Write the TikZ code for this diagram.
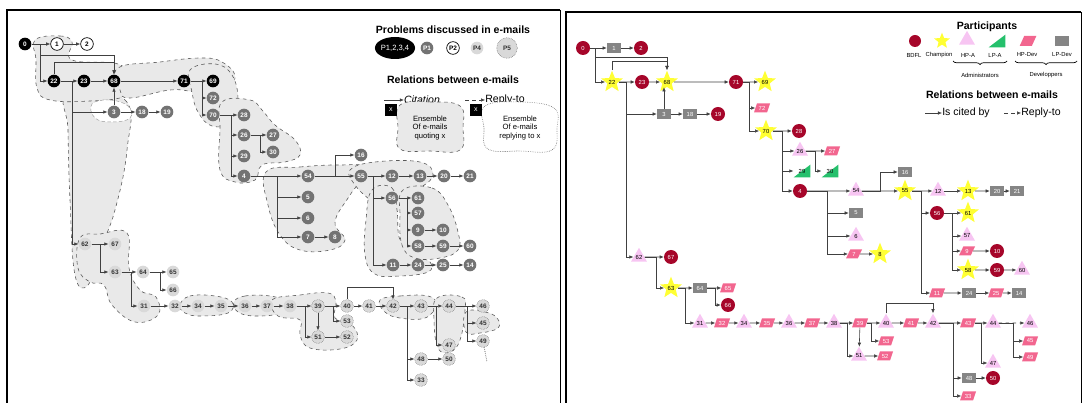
\documentclass[tikz,border=0pt]{standalone}
\usepackage{fontspec}
\setmainfont{Liberation Sans}
\usetikzlibrary{shapes.geometric,arrows.meta,decorations.pathreplacing}

\definecolor{bdfl}{HTML}{A6062A}
\definecolor{champ}{HTML}{FFFF33}
\definecolor{hpa}{HTML}{F7C5F2}
\definecolor{lpa}{HTML}{25C06C}
\definecolor{hpdev}{HTML}{F2668F}
\definecolor{lpdev}{HTML}{858585}
\definecolor{blobgray}{HTML}{E9E9E9}

\tikzset{
  every node/.style={font=\fontsize{5}{6}\selectfont, inner sep=0pt},
  cite/.style={draw=black!75, line width=0.5pt, -{Latex[length=3.5pt,width=3pt]}},
  reply/.style={cite, dashed},
  heading/.style={font=\fontsize{9}{10}\selectfont\bfseries},
  keytext/.style={font=\fontsize{9}{10}\selectfont},
  pall/.style={circle, minimum size=0.38cm, font=\fontsize{5.5}{6}\selectfont\bfseries},
  pall4/.style={pall, fill=black, text=white},
  pone/.style={pall, fill=black!55, text=white},
  ptwo/.style={pall, draw=black, fill=white, line width=0.6pt},
  pfour/.style={pall, fill=black!15, text=black!80},
  pfive/.style={pall, fill=black!15, draw=black!70, densely dotted, text=black!80},
  region/.style={fill=blobgray, draw=black!65, dashed, line width=0.5pt},
  bdflnode/.style={circle, fill=bdfl, text=white, minimum size=0.42cm},
  champnode/.style={star, star points=5, star point ratio=2.3, fill=champ, minimum size=0.68cm},
  hpanode/.style={regular polygon, regular polygon sides=3, fill=hpa, minimum size=0.55cm},
  lpanode/.style={minimum width=0.5cm, minimum height=0.38cm,
    path picture={\fill[lpa] (path picture bounding box.south west) -- (path picture bounding box.south east) -- (path picture bounding box.north east) -- cycle;}},
  hpdevnode/.style={trapezium, trapezium left angle=65, trapezium right angle=115, trapezium stretches=true,
    fill=hpdev, text=white, minimum width=0.48cm, minimum height=0.27cm},
  lpdevnode/.style={rectangle, fill=lpdev, text=white, minimum width=0.42cm, minimum height=0.28cm},
}

\begin{document}
\begin{tikzpicture}[x=0.03cm, y=-0.03cm]
\useasboundingbox (0,0) rectangle (1083,403);

% frames of the two panels
\draw[line width=1.6pt] (7,403) -- (7,10) -- (560,10);
\draw[line width=0.6pt] (560,10) -- (560,403);
\draw[line width=1.6pt] (566,403) -- (566,12) -- (1081,12);
\draw[line width=0.6pt] (1081,12) -- (1081,403);

% ---------------- left panel: problems ----------------
% ensembles of e-mails
\draw[region] plot[smooth cycle, tension=0.7] coordinates {(68,95) (125,100) (127,150) (115,210) (100,250) (88,285) (75,275) (70,200) (68,130)};
\draw[region] plot[smooth cycle, tension=0.7] coordinates {(35,40) (60,36) (72,42) (72,60) (118,64) (130,80) (125,96) (90,101) (50,100) (37,88) (36,60)};
\draw[region] plot[smooth cycle, tension=0.7] coordinates {(118,68) (160,62) (200,58) (222,62) (235,78) (218,95) (195,92) (170,90) (130,98) (120,90)};
\draw[region] plot[smooth cycle, tension=0.7] coordinates {(190,70) (215,64) (232,75) (238,100) (232,122) (212,126) (198,112) (192,92)};
\draw[region] plot[smooth cycle, tension=0.7] coordinates {(222,102) (250,100) (262,110) (275,125) (295,140) (300,155) (285,162) (262,165) (255,180) (235,182) (220,170) (220,130)};
\draw[fill=white, draw=black!40, densely dashed] plot[smooth cycle, tension=0.7] coordinates {(92,104) (110,100) (128,106) (130,118) (112,122) (95,118)};
\draw[region] plot[smooth cycle, tension=0.7] coordinates {(266,172) (300,167) (340,165) (368,168) (350,195) (335,222) (345,240) (330,250) (300,250) (280,235) (268,205)};
\draw[region] plot[smooth cycle, tension=0.7] coordinates {(350,170) (375,162) (420,162) (433,175) (420,188) (405,195) (400,210) (385,212) (370,200) (355,185)};
\draw[region] plot[smooth cycle, tension=0.7] coordinates {(372,190) (392,188) (397,210) (400,240) (415,255) (430,262) (428,272) (400,276) (375,274) (365,255) (366,220)};
\draw[region] plot[smooth cycle, tension=0.7] coordinates {(403,190) (432,188) (448,205) (458,232) (458,250) (440,258) (415,258) (402,245) (400,215)};
\draw[region] plot[smooth cycle, tension=0.7] coordinates {(80,238) (100,234) (127,233) (129,268) (140,290) (156,297) (158,315) (135,322) (112,305) (104,285) (90,282) (78,268)};
\draw[region] plot[smooth cycle, tension=0.7] coordinates {(180,305) (190,296) (215,296) (232,302) (228,313) (200,316) (185,313)};
\draw[region] plot[smooth cycle, tension=0.7] coordinates {(234,302) (245,296) (270,296) (285,302) (280,313) (255,316) (238,312)};
\draw[region] plot[smooth cycle, tension=0.7] coordinates {(272,300) (300,295) (328,293) (336,302) (335,318) (352,325) (357,340) (340,349) (310,348) (300,335) (300,320) (278,316)};
\draw[region] plot[smooth cycle, tension=0.7] coordinates {(380,300) (400,296) (428,296) (436,305) (425,318) (400,318) (385,312)};
\draw[region] plot[smooth cycle, tension=0.7] coordinates {(437,298) (462,297) (465,310) (460,340) (450,352) (438,348) (434,320)};
\draw[region] plot[smooth cycle, tension=0.7] coordinates {(466,312) (485,312) (497,318) (498,328) (480,333) (466,332)};

% e-mails
\foreach \n/\x/\y in {0/25/44, 22/54/81, 23/84/81, 68/114/81, 71/184/81, 69/213/81}
  \node[pall4] (l\n) at (\x,\y) {\n};
\foreach \n/\x/\y in {1/57/44, 2/87/44}
  \node[ptwo] (l\n) at (\x,\y) {\n};
\foreach \n/\x/\y in {3/114/112, 18/142/112, 19/167/112, 72/213/98, 70/213/115, 28/244/115,
    26/244/135, 27/273/135, 30/273/152, 29/244/156, 4/244/176, 16/361/155, 54/308/176,
    55/361/176, 12/392/176, 13/420/176, 20/444/176, 21/470/176, 5/308/197, 6/308/218,
    7/308/237, 8/335/237, 56/392/198, 61/418/198, 57/418/213, 9/418/230, 10/443/230,
    58/418/246, 59/443/246, 60/470/246, 11/393/265, 24/418/265, 25/443/265, 14/470/265}
  \node[pone] (l\n) at (\x,\y) {\n};
\foreach \n/\x/\y in {62/85/244, 67/115/244, 63/115/272, 64/143/272, 65/173/272, 66/173/290,
    31/144/306, 32/175/306, 34/198/306, 35/221/306, 36/245/306, 37/267/306, 38/290/306}
  \node[pfour] (l\n) at (\x,\y) {\n};
\foreach \n/\x/\y in {39/318/306, 40/347/306, 41/369/306, 42/393/306, 43/421/306, 44/449/306,
    46/483/306, 53/347/321, 51/318/337, 52/347/337, 45/483/323, 47/449/345, 49/483/341,
    48/421/359, 50/449/359, 33/421/380}
  \node[pfive] (l\n) at (\x,\y) {\n};

% citations
\foreach \a/\b in {0/1, 1/2, 22/23, 23/68, 68/71, 71/69, 3/18, 18/19, 70/28, 26/27, 4/54, 54/55,
    7/8, 55/12, 12/13, 13/20, 20/21, 56/61, 9/10, 58/59, 59/60, 11/24, 24/25, 25/14, 62/67,
    63/64, 64/65, 31/32, 32/34, 34/35, 35/36, 36/37, 37/38, 38/39, 39/40, 40/41, 41/42,
    42/43, 44/46, 51/52, 48/50, 3/68, 39/51}
  \draw[cite] (l\a) -- (l\b);
\draw[reply] (l43) -- (l44);
\foreach \a/\d/\b in {0/8.5/22, 22/11.5/3, 22/11.5/62, 71/11.5/72, 71/11.5/70, 70/11.5/26,
    70/11.5/29, 70/11.5/4, 26/9.5/30, 4/26.5/5, 4/26.5/6, 4/26.5/7, 54/20.5/16, 55/5.5/56,
    55/5.5/11, 56/8.5/57, 56/8.5/9, 56/8.5/58, 62/8.5/63, 63/9.5/31, 64/10.5/66, 38/8.5/51,
    39/8.5/53, 42/7.5/48, 42/7.5/33, 43/8.5/47, 44/11.5/45, 44/11.5/49}
  \draw[cite] (l\a.east) -- ++(\d,0) |- (l\b);
\draw[cite] (l0.east) -- ++(8.5,0) -- ++(0,11) -| (l68);
\draw[cite] (l22.north) -- ++(0,-12.5) -| (l68);
\draw[cite] (l40.north) -- ++(0,-12.5) -| (l42);
\coordinate (l49end) at (487,362);
\draw[black!70, densely dotted, line width=0.6pt] (l49) -- (l49end);

% legend of the left panel
\node[heading] (probtitle) at (453,30) {Problems discussed in e-mails};
\node[ellipse, fill=black, text=white, minimum width=0.95cm, minimum height=0.66cm,
  font=\fontsize{6.5}{7}\selectfont] (pkall) at (395,48) {P1,2,3,4};
\node[pone] (pkone) at (427,48) {P1};
\node[ptwo] (pktwo) at (453,48) {P2};
\node[pfour] (pkfour) at (477,48) {P4};
\node[pfive, minimum size=0.62cm] (pkfive) at (507,48) {P5};
\node[heading] (relleft) at (453,80) {Relations between e-mails};
\node[keytext, font=\fontsize{9}{10}\selectfont\itshape] (citeleft) at (422,100) {Citation};
\node[keytext] (replyleft) at (505,100) {Reply-to};
\draw[cite] (citeleft.west) ++(-20,0) -- (citeleft.west);
\draw[reply] (replyleft.west) ++(-20,0) -- (replyleft.west);
\draw[region] plot[smooth cycle, tension=0.7] coordinates {(400,105) (430,102) (460,106) (463,128) (460,150) (430,151) (400,149) (398,128)};
\draw[fill=white, draw=black!60, densely dotted, line width=0.5pt] plot[smooth cycle, tension=0.7] coordinates {(485,106) (520,102) (554,108) (557,128) (552,150) (520,151) (488,149) (484,128)};
\node[fill=black, text=white, minimum size=0.36cm, font=\fontsize{6}{7}\selectfont] (xquote) at (391,110) {x};
\node[fill=black, text=white, minimum size=0.36cm, font=\fontsize{6}{7}\selectfont] (xreply) at (476,110) {x};
\node[align=center, font=\fontsize{6.5}{7.5}\selectfont] (quotetext) at (430,128) {Ensemble\\Of e-mails\\quoting x};
\node[align=center, font=\fontsize{6.5}{7.5}\selectfont] (replytext) at (520,128) {Ensemble\\Of e-mails\\replying to x};

% ---------------- right panel: participants ----------------
\foreach \n/\x/\y in {0/583/48, 2/641/48, 23/642/82, 71/736/82, 19/718/114, 28/799/131,
    4/800/191, 67/671/257, 56/937/213, 10/997/251, 59/997/270, 66/728/305, 50/993/378}
  \node[bdflnode] (r\n) at (\x,\y) {\n};
\foreach \n/\x/\y in {22/612/82, 68/667/82, 69/765/82, 70/766/131, 55/905/191, 13/968/191,
    61/968/213, 8/880/254, 58/968/270, 63/671/288}
  \node[champnode] (r\n) at (\x,\y) {\n};
\foreach \n/\x/\y in {26/800/151, 62/639/257, 54/856/191, 12/938/191, 6/856/236, 57/967/236,
    60/1022/270, 31/700/323, 34/744/323, 36/789/323, 38/834/323, 40/886/323, 42/933/323,
    44/993/323, 46/1030/323, 51/859/356, 47/993/363}
  \node[hpanode] (r\n) at (\x,\y) {\n};
\foreach \n/\x/\y in {29/802/171, 30/830/171}
  \node[lpanode] (r\n) at (\x,\y) {\n};
\foreach \n/\x/\y in {72/762/108, 27/832/151, 7/854/254, 9/967/251, 11/937/293, 25/996/293,
    65/728/288, 32/722/323, 35/767/323, 37/812/323, 39/860/323, 41/911/323, 43/968/323,
    53/886/341, 45/1030/341, 52/885/356, 49/1030/357, 33/968/396}
  \node[hpdevnode] (r\n) at (\x,\y) {\n};
\foreach \n/\x/\y in {1/614/48, 3/664/114, 18/690/114, 16/905/172, 20/997/191, 21/1017/191,
    5/856/213, 24/969/293, 14/1019/293, 64/700/288, 48/969/378}
  \node[lpdevnode] (r\n) at (\x,\y) {\n};

% citations
\foreach \a/\b in {0/1, 1/2, 22/23, 23/68, 68/71, 71/69, 3/18, 18/19, 70/28, 26/27, 4/54, 54/55,
    7/8, 55/12, 12/13, 13/20, 20/21, 56/61, 9/10, 58/59, 59/60, 11/24, 24/25, 25/14, 62/67,
    63/64, 64/65, 31/32, 32/34, 34/35, 35/36, 36/37, 37/38, 38/39, 39/40, 40/41, 41/42,
    42/43, 43/44, 51/52, 48/50, 39/51}
  \draw[cite] (r\a) -- (r\b);
\draw[reply] (r44) -- (r46);
\foreach \a/\d/\b in {0/5/22, 22/7/3, 22/7/62, 71/6/72, 71/6/70, 70/9/26, 70/9/29, 70/9/4,
    26/10/30, 4/20/5, 4/20/6, 4/20/7, 54/19/16, 55/9/56, 55/9/11, 56/8/57, 56/8/9, 56/8/58,
    62/12/63, 63/7/31, 64/8/66, 38/8/51, 39/4.5/53, 42/15/48, 42/15/33, 43/6.5/47,
    44/15/45, 44/15/49}
  \draw[cite] (r\a.east) -- ++(\d,0) |- (r\b);
\draw[cite] (r0.east) -- ++(5,0) -- ++(0,9) -| (r68);
\draw[cite] (r22.north) -- ++(0,-9) -| (r68);
\draw[cite] (r3.north) -- (r3.north |- r68.south);
\draw[cite] (r40.north) -- ++(0,-10) -| (r42);

% legend of the right panel
\node[heading] (parttitle) at (987,27) {Participants};
\node[bdflnode, minimum size=0.36cm] (kbdfl) at (915,41) {};
\node[champnode, minimum size=0.5cm] (kchamp) at (942,41) {};
\node[hpanode] (khpa) at (967,40) {};
\node[lpanode] (klpa) at (997,41) {};
\node[hpdevnode, minimum width=0.5cm, minimum height=0.3cm] (khpdev) at (1028,41) {\phantom{0}};
\node[lpdevnode, minimum height=0.3cm] (klpdev) at (1062,41) {};
\node (tbdfl) at (914,55) {BDFL};
\node (tchamp) at (939,55) {Champion};
\node (thpa) at (968,55) {HP-A};
\node (tlpa) at (995,55) {LP-A};
\node (thpdev) at (1027,55) {HP-Dev};
\node (tlpdev) at (1062,55) {LP-Dev};
\draw[decorate, decoration={brace, mirror, amplitude=3pt}, line width=0.6pt] (953,61) -- (1007,61);
\draw[decorate, decoration={brace, mirror, amplitude=3pt}, line width=0.6pt] (1015,61) -- (1077,61);
\node (tadmin) at (980,75) {Administrators};
\node (tdev) at (1046,75) {Developpers};
\node[heading] (relright) at (992,95) {Relations between e-mails};
\node[keytext] (citedright) at (966,113) {Is cited by};
\node[keytext] (replyright) at (1041,113) {Reply-to};
\draw[cite] (citedright.west) ++(-17,0) -- (citedright.west);
\draw[reply] (replyright.west) ++(-17,0) -- (replyright.west);
\end{tikzpicture}
\end{document}
